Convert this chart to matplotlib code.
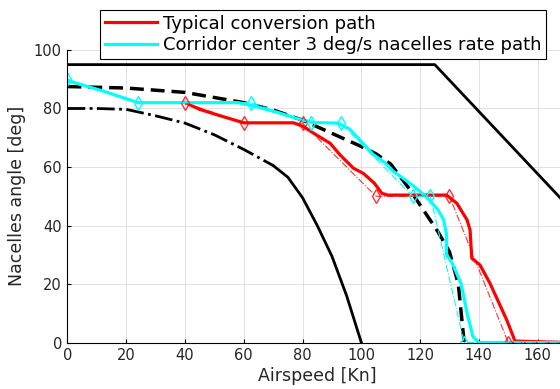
import matplotlib
matplotlib.use('Agg')
from matplotlib import pyplot as plt

# limite superiore (linea nera continua in alto)
limit_x = [0, 125, 170]
limit_y = [95, 95, 47]

# limite inferiore: tratto-punto poi continuo
low_dd_x = [0, 10, 20, 30, 40, 50, 60, 70]
low_dd_y = [80, 80, 79.7, 77.5, 75, 71, 66, 60.5]
low_x = [70, 75, 80, 85, 90, 95, 100]
low_y = [60.5, 56.5, 49.5, 40, 29.5, 16, 0]

# centro del corridoio (linea nera tratteggiata)
center_x = [0, 20, 40, 60, 70, 80, 90, 100, 105, 110, 116, 122, 126, 130, 133, 135]
center_y = [87.5, 87, 85.5, 82, 79.5, 76, 71.5, 67, 64.5, 61, 53, 44, 38, 31, 20, 0]

# percorso di conversione tipico
typ_x = [40, 45, 52, 60, 77, 80.3, 84.8, 89.4, 92.8, 97.3, 100.7, 104.4, 107, 109, 129,
         132.5, 136, 137, 137.6, 140.4, 143.8, 149.5, 152.3, 170]
typ_y = [82, 79.7, 77.5, 75.1, 75.1, 73.8, 70.9, 68.1, 64.1, 59.6, 57.8, 54.5, 51, 50.4, 50.4,
         47.6, 41.9, 38.5, 28.8, 26.5, 20.2, 7.7, 0.5, 0]
typ_ref_x = [40, 60, 80, 105, 130, 150, 170]
typ_ref_y = [82, 75, 75, 50, 50, 0, 0]

# percorso 3 deg/s
cor_x = [0, 12, 24, 45, 58, 63, 72, 80, 84, 92, 96, 100, 104, 108, 111, 115, 118, 122, 126,
         128, 129, 129, 131, 134, 136, 138, 140, 170]
cor_y = [89.5, 86, 82, 82, 82, 81, 78.5, 76, 75.2, 75, 73, 68.7, 64.3, 61.5, 58.4, 55.6, 53.3,
         49.9, 45.5, 42, 37, 30, 27, 20, 10, 2, 0, 0]
cor_ref_x = [0, 24, 62.5, 83, 93, 117.5, 123.5, 135, 170]
cor_ref_y = [90, 82, 82, 75, 75, 50, 50, 0, 0]

fig = plt.figure(figsize=(5.6, 3.89), dpi=100)
ax = fig.add_axes([0.1205, 0.1195, 0.892, 0.752])

ax.plot(limit_x, limit_y, color='k', lw=2)
ax.plot(low_dd_x, low_dd_y, color='k', lw=2, ls='-.')
ax.plot(low_x, low_y, color='k', lw=2)
ax.plot(center_x, center_y, color='k', lw=2.5, ls='--', dashes=(4, 2))

h1, = ax.plot(typ_x, typ_y, color='red', lw=2.3, label='Typical conversion path')
h2, = ax.plot(cor_x, cor_y, color='cyan', lw=2.3,
              label='Corridor center 3 deg/s nacelles rate path')
ax.plot(typ_ref_x, typ_ref_y, color='red', lw=0.8, ls='-.', alpha=0.8,
        marker='d', markersize=7, markerfacecolor='none', markevery=list(range(6)))
ax.plot(cor_ref_x, cor_ref_y, color='cyan', lw=0.8, ls='-.',
        marker='d', markersize=7, markerfacecolor='none', markevery=list(range(8)))

ax.set_xlim(0, 170)
ax.set_ylim(0, 100)
ax.set_xticks(range(0, 161, 20))
ax.set_yticks(range(0, 101, 20))
ax.grid(True, color='#dcdcdc', lw=0.6)
ax.set_axisbelow(True)
ax.spines['top'].set_visible(False)
ax.spines['right'].set_visible(False)
ax.tick_params(direction='in', length=3, labelsize=10.5, labelcolor='#262626', pad=4)
ax.set_xlabel('Airspeed [Kn]', fontsize=12.5, color='#262626', labelpad=3)
ax.set_ylabel('Nacelles angle [deg]', fontsize=12.5, color='#262626', labelpad=6)

leg = fig.legend([h1, h2], [h1.get_label(), h2.get_label()], loc='upper left',
                 bbox_to_anchor=(0.179, 0.974), fontsize=13, fancybox=False,
                 framealpha=1, edgecolor='k', handlelength=2.9, borderaxespad=0,
                 labelspacing=0.2, borderpad=0.25, handletextpad=0.3)
leg.get_frame().set_linewidth(0.8)

plt.savefig('out.png', dpi=100)
